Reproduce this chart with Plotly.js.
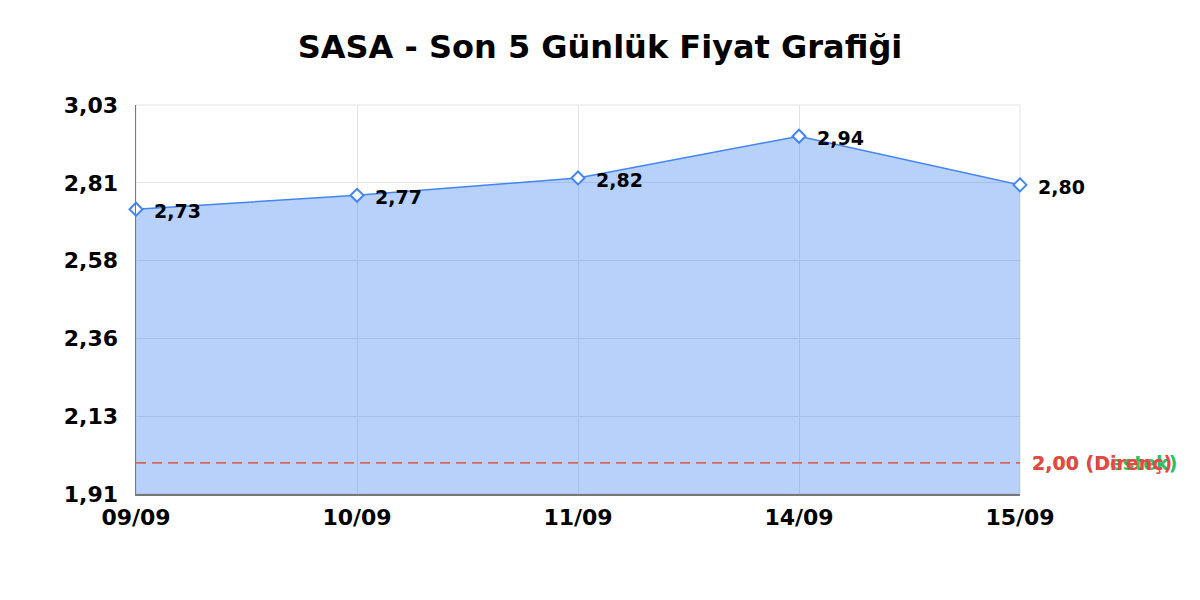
<!DOCTYPE html>
<html>
<head>
<meta charset="utf-8">
<script src="https://cdn.plot.ly/plotly-3.0.1.min.js"></script>
<style>
  html, body { margin: 0; padding: 0; background: #fff; }
  #chart { width: 1200px; height: 600px; }
</style>
</head>
<body>
<div id="chart"></div>
<script>
// Son 5 gün kapanış fiyatları
const days = ['09/09', '10/09', '11/09', '14/09', '15/09'];
const prices = [2.73, 2.77, 2.82, 2.94, 2.80];
const supportLevel = 2.00;
const resistanceLevel = 2.00;
const yTicks = [1.91, 2.134, 2.358, 2.582, 2.806, 3.03];
const yTickLabels = ['1,91', '2,13', '2,36', '2,58', '2,81', '3,03'];

const FONT = 'DejaVu Sans, sans-serif';

let priceTrace = {
    type: 'scatter',
    mode: 'lines+markers',
    x: days,
    y: prices,
    fill: 'tozeroy',
    fillcolor: 'rgba(66,133,244,0.38)',
    line: { color: 'rgb(66,133,244)', width: 1.5 },
    marker: {
        symbol: 'diamond',
        size: 10,
        color: '#fff',
        line: { width: 2, color: 'rgb(66,133,244)' }
    },
    cliponaxis: false,
    hoverinfo: 'x+y'
};

// destek ve direnç çizgileri (dolgunun üstünde)
let supportTrace = {
    type: 'scatter',
    mode: 'lines',
    x: days,
    y: days.map(() => supportLevel),
    line: { color: 'rgb(34,197,94)', width: 1.5, dash: '10px,6px' },
    hoverinfo: 'skip'
};
let resistanceTrace = {
    type: 'scatter',
    mode: 'lines',
    x: days,
    y: days.map(() => resistanceLevel),
    line: { color: 'rgb(240,90,90)', width: 1.5, dash: '10px,6px' },
    hoverinfo: 'skip'
};

// nokta etiketleri
let pointLabels = days.map((d, i) => ({
    x: d, y: prices[i], xref: 'x', yref: 'y',
    text: prices[i].toFixed(2).replace('.', ','),
    showarrow: false,
    xanchor: 'left', yanchor: 'middle',
    xshift: 16, yshift: -2,
    font: { family: FONT, size: 19, color: '#000', weight: 'bold' }
}));

let levelLabels = [
    {
        x: days[days.length - 1], y: supportLevel, xref: 'x', yref: 'y',
        text: '2,00 (Destek)', showarrow: false,
        xanchor: 'left', yanchor: 'middle', xshift: 10,
        font: { family: FONT, size: 19, color: 'rgb(34,197,94)', weight: 'bold' }
    },
    {
        x: days[days.length - 1], y: resistanceLevel, xref: 'x', yref: 'y',
        text: '2,00 (Direnç)', showarrow: false,
        xanchor: 'left', yanchor: 'middle', xshift: 10,
        font: { family: FONT, size: 19, color: 'rgb(239,68,68)', weight: 'bold' }
    }
];

let layout = {
    width: 1200,
    height: 600,
    paper_bgcolor: '#fff',
    plot_bgcolor: '#fff',
    separators: ',.',
    showlegend: false,
    margin: { t: 105, r: 180, b: 106, l: 136 },
    title: {
        text: 'SASA - Son 5 Günlük Fiyat Grafiği',
        font: { family: FONT, size: 32, color: '#000', weight: 'bold' },
        x: 0.5,
        xanchor: 'center',
        y: 0.922,
        yanchor: 'middle'
    },
    xaxis: {
        type: 'category',
        range: [0, 4],
        showgrid: true,
        gridcolor: '#e3e3e3',
        showline: true,
        linecolor: '#777',
        linewidth: 1.5,
        zeroline: false,
        ticks: 'outside',
        ticklen: 3,
        tickcolor: 'rgba(0,0,0,0)',
        tickfont: { family: FONT, size: 22, color: '#000', weight: 'bold' },
        fixedrange: true
    },
    yaxis: {
        range: [1.91, 3.03],
        tickvals: yTicks,
        ticktext: yTickLabels,
        showgrid: true,
        gridcolor: '#e3e3e3',
        showline: true,
        linecolor: '#777',
        linewidth: 1.5,
        zeroline: false,
        ticks: 'outside',
        ticklen: 12,
        tickcolor: 'rgba(0,0,0,0)',
        tickfont: { family: FONT, size: 22, color: '#000', weight: 'bold' },
        fixedrange: true
    },
    shapes: [
        {
            type: 'rect', xref: 'paper', yref: 'paper',
            x0: 0, x1: 1, y0: 0, y1: 1,
            line: { color: '#e3e3e3', width: 1 },
            layer: 'below'
        }
    ],
    annotations: pointLabels.concat(levelLabels)
};

Plotly.newPlot('chart', [priceTrace, supportTrace, resistanceTrace], layout, { displayModeBar: false, staticPlot: true });
</script>
</body>
</html>
